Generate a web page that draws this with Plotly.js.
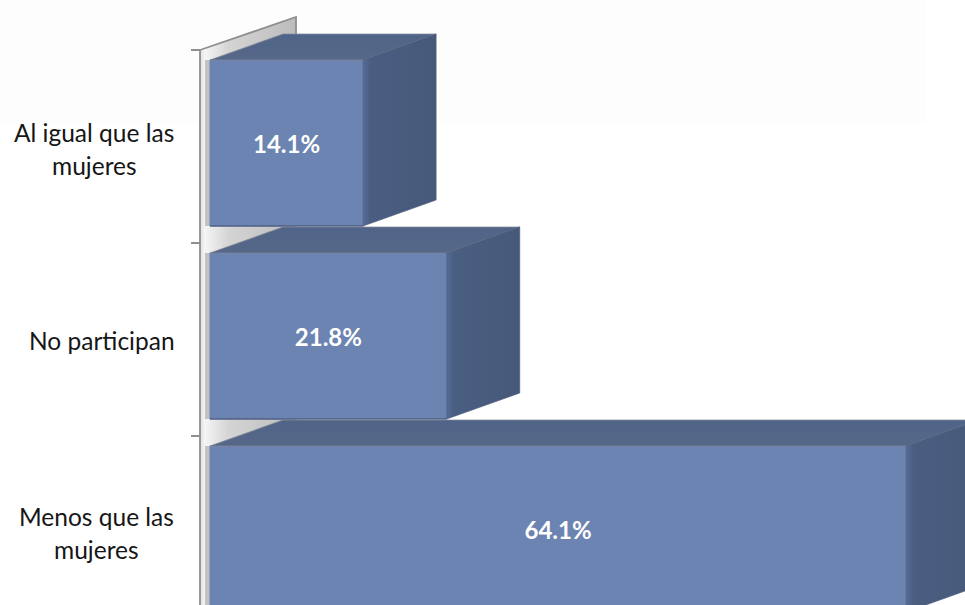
<!DOCTYPE html>
<html>
<head>
<meta charset="utf-8">
<script src="https://cdn.plot.ly/plotly-3.0.1.min.js"></script>
<style>html,body{margin:0;padding:0;background:#fff;overflow:hidden}#chart{width:965px;height:605px}</style>
</head>
<body>
<div id="chart"></div>
<script>
var categories = ["Al igual que las<br>mujeres", "No participan", "Menos que las<br>mujeres"];
var values = [14.1, 21.8, 64.1];
var positions = [0, 1, 2];

var W = 965, H = 605, plotLeft = 190, axisPx = 200, zeroPx = 210, pxPerUnit = 10.86;
var pxPerBand = 193, firstBoundaryPx = 50;
var depthX = 73 / pxPerUnit, depthY = 26 / pxPerBand;
var wallDepthX = 96 / pxPerUnit, wallDepthY = 33 / pxPerBand;
var barWidth = 0.86, barOffset = -0.448;

var xRange = [(plotLeft - zeroPx) / pxPerUnit, (W - zeroPx) / pxPerUnit];
var yRange = [-0.5 + (H - firstBoundaryPx) / pxPerBand, -0.5 - firstBoundaryPx / pxPerBand];
var xAxisPos = (axisPx - zeroPx) / pxPerUnit;

var traces = [];

// back wall
traces.push({
  type: 'scatter', mode: 'lines', xaxis: 'x', yaxis: 'y', hoverinfo: 'skip', showlegend: false,
  x: [xAxisPos, xAxisPos + wallDepthX, xAxisPos + wallDepthX, xAxisPos, xAxisPos],
  y: [-0.5, -0.5 - wallDepthY, 2.6, 2.6, -0.5],
  fill: 'toself',
  line: {color: '#8f8f8f', width: 1.8},
  fillgradient: {type: 'horizontal', colorscale: [[0, '#dedede'], [0.05, '#f5f5f5'], [0.3, '#d4d4d4'], [1, '#bcbcbc']]}
});

// soft shadow of each bar on the wall
var shadowX = [], shadowY = [];
positions.forEach(function (p) {
  shadowX.push(-2.5 / pxPerUnit, -2.5 / pxPerUnit, null);
  shadowY.push(p + barOffset, p + barOffset + barWidth, null);
});
traces.push({
  type: 'scatter', mode: 'lines', xaxis: 'x', yaxis: 'y', hoverinfo: 'skip', showlegend: false,
  x: shadowX, y: shadowY, connectgaps: false, line: {color: '#c2c2c2', width: 5}
});

// front faces
traces.push({
  type: 'bar', orientation: 'h', xaxis: 'x2', yaxis: 'y2', showlegend: false, hoverinfo: 'skip',
  x: values, y: positions, base: 0, width: barWidth, offset: barOffset,
  marker: {color: '#6c84b1', line: {color: '#6a84bb', width: 1}},
  text: values.map(function (v) { return v.toFixed(1) + '%'; }),
  textposition: 'inside', insidetextanchor: 'middle', constraintext: 'none', textangle: 0,
  textfont: {family: 'Lato, Carlito, sans-serif', size: 24, color: '#ffffff', weight: 700}
});

// top and side faces, built from the values
values.forEach(function (v, i) {
  var t = positions[i] + barOffset, b = t + barWidth;
  traces.push({
    type: 'scatter', mode: 'lines', xaxis: 'x2', yaxis: 'y2', hoverinfo: 'skip', showlegend: false,
    x: [0, depthX, v + depthX, v, 0],
    y: [t, t - depthY, t - depthY, t, t],
    fill: 'toself', line: {color: '#7f8794', width: 0.8},
    fillgradient: {type: 'vertical', colorscale: [[0, '#566888'], [1, '#4f6488']]}
  });
  traces.push({
    type: 'scatter', mode: 'lines', xaxis: 'x2', yaxis: 'y2', hoverinfo: 'skip', showlegend: false,
    x: [v, v + depthX, v + depthX, v, v],
    y: [t, t - depthY, b - depthY, b, t],
    fill: 'toself', line: {color: '#4a5a78', width: 0.6},
    fillgradient: {type: 'horizontal', colorscale: [[0, '#566c94'], [0.1, '#4a5e82'], [1, '#46597a']]}
  });
  traces.push({
    type: 'scatter', mode: 'lines', xaxis: 'x2', yaxis: 'y2', hoverinfo: 'skip', showlegend: false,
    x: [0, v], y: [b, b], line: {color: '#3f4f6c', width: 1.2}
  });
});

// category labels: one annotation per line for the wide line spacing
var annotations = [];
var lineGap = 33, labelShift = [2, 1, 0], labelCenterPx = [94, 102, 96.5];
categories.forEach(function (c, i) {
  var lines = c.split('<br>');
  lines.forEach(function (ln, j) {
    annotations.push({
      xref: 'paper', yref: 'y', x: labelCenterPx[i] / W, y: positions[i], xanchor: 'center', yanchor: 'middle',
      yshift: -(labelShift[i] + (j - (lines.length - 1) / 2) * lineGap),
      text: ln, showarrow: false, font: {family: 'Lato, Carlito, sans-serif', size: 24.5, color: '#161616'}
    });
  });
});

var layout = {
  width: W, height: H,
  margin: {l: 0, r: 0, t: 0, b: 0, pad: 0},
  paper_bgcolor: '#ffffff', plot_bgcolor: 'rgba(0,0,0,0)',
  showlegend: false, hovermode: false, barmode: 'overlay',
  xaxis: {domain: [plotLeft / W, 1], range: xRange, visible: false, fixedrange: true},
  yaxis: {
    domain: [0, 1], range: yRange, anchor: 'free', position: axisPx / W, side: 'left',
    tickmode: 'array', tickvals: [-0.5, 0.5, 1.5], ticktext: ['', '', ''],
    ticks: 'outside', ticklen: 9, tickwidth: 1.4, tickcolor: '#8f8f8f',
    showgrid: false, zeroline: false, showline: false, fixedrange: true
  },
  xaxis2: {domain: [plotLeft / W, 1], range: xRange, visible: false, overlaying: 'x', fixedrange: true},
  yaxis2: {domain: [0, 1], range: yRange, visible: false, overlaying: 'y', anchor: 'x2', fixedrange: true},
  annotations: annotations,
  shapes: [{type: 'rect', xref: 'paper', yref: 'paper', x0: 0, x1: 926 / W, y0: 1 - 122 / H, y1: 1,
            fillcolor: '#fdfdfd', line: {width: 0}, layer: 'below'}]
};

Plotly.newPlot('chart', traces, layout, {staticPlot: true, displayModeBar: false});
</script>
</body>
</html>
